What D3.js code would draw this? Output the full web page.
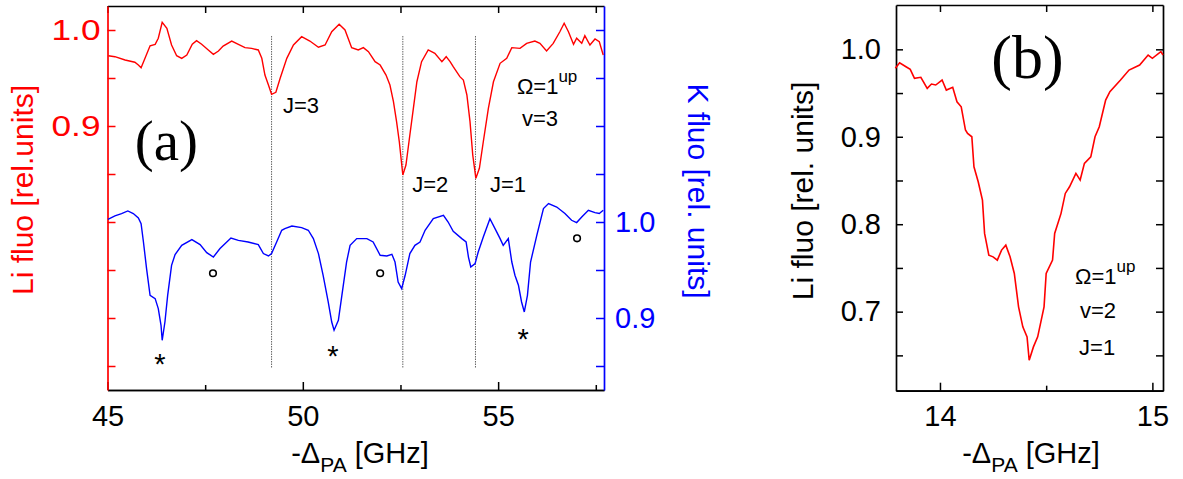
<!DOCTYPE html>
<html><head><meta charset="utf-8">
<script src="https://cdn.jsdelivr.net/npm/d3@7"></script>
<style>
body{margin:0;background:#fff;}
svg{display:block;font-family:"Liberation Sans",Arial,sans-serif;}
</style></head>
<body><svg id="c" width="1183" height="479"></svg>
<script>
// ---- Panel (a): Li fluorescence (red), GHz vs rel. units
const liA = [[45.02,0.9732],[45.19,0.9722],[45.45,0.9688],[45.70,0.9664],[45.79,0.9635],[45.86,0.9607],[45.96,0.9705],[46.09,0.9836],[46.22,0.9851],[46.30,0.9914],[46.40,1.0080],[46.52,1.0018],[46.64,0.9844],[46.77,0.9732],[46.90,0.9705],[47.03,0.9740],[47.17,0.9851],[47.28,0.9889],[47.41,0.9851],[47.58,0.9792],[47.71,0.9747],[47.84,0.9781],[47.96,0.9833],[48.18,0.9885],[48.35,0.9851],[48.52,0.9816],[48.69,0.9809],[48.86,0.9792],[48.95,0.9705],[49.03,0.9531],[49.12,0.9427],[49.20,0.9330],[49.31,0.9351],[49.42,0.9497],[49.59,0.9705],[49.76,0.9844],[49.97,0.9930],[50.18,0.9885],[50.40,0.9820],[50.57,0.9844],[50.74,0.9982],[50.93,1.0059],[51.08,1.0000],[51.25,0.9816],[51.42,0.9792],[51.55,0.9816],[51.68,0.9774],[51.85,0.9670],[51.98,0.9635],[52.13,0.9531],[52.23,0.9427],[52.32,0.9253],[52.40,0.9045],[52.47,0.8836],[52.56,0.8490],[52.64,0.8594],[52.74,0.8906],[52.83,0.9184],[52.92,0.9461],[53.04,0.9670],[53.21,0.9792],[53.38,0.9757],[53.56,0.9670],[53.67,0.9722],[53.77,0.9670],[53.85,0.9618],[54.02,0.9514],[54.11,0.9479],[54.20,0.9323],[54.28,0.9045],[54.35,0.8698],[54.43,0.8455],[54.52,0.8560],[54.62,0.8836],[54.75,0.9184],[54.88,0.9461],[55.05,0.9653],[55.22,0.9705],[55.35,0.9816],[55.56,0.9809],[55.73,0.9861],[55.94,0.9885],[56.07,0.9861],[56.24,0.9781],[56.41,0.9861],[56.58,0.9982],[56.69,1.0070],[56.80,0.9982],[56.93,0.9851],[57.01,0.9914],[57.14,0.9861],[57.22,0.9941],[57.35,0.9844],[57.48,0.9906],[57.59,0.9878],[57.69,0.9740]];
// K fluorescence (blue)
const kA = [[45.01,1.0028],[45.19,1.0063],[45.36,1.0088],[45.52,1.0115],[45.66,1.0088],[45.79,1.0042],[45.86,0.9983],[45.92,0.9792],[46.00,0.9515],[46.09,0.9236],[46.22,0.9202],[46.30,0.9098],[46.37,0.8924],[46.40,0.8768],[46.47,0.8958],[46.54,0.9236],[46.64,0.9549],[46.73,0.9660],[46.90,0.9757],[47.16,0.9817],[47.37,0.9765],[47.54,0.9681],[47.71,0.9635],[47.88,0.9723],[48.16,0.9833],[48.35,0.9809],[48.60,0.9792],[48.86,0.9765],[48.99,0.9671],[49.12,0.9646],[49.20,0.9671],[49.33,0.9792],[49.46,0.9914],[49.54,0.9931],[49.72,0.9958],[49.97,0.9942],[50.14,0.9914],[50.27,0.9827],[50.40,0.9671],[50.52,0.9445],[50.65,0.9167],[50.74,0.8958],[50.80,0.8872],[50.91,0.8976],[51.00,0.9236],[51.12,0.9583],[51.21,0.9757],[51.38,0.9827],[51.64,0.9827],[51.80,0.9792],[51.98,0.9653],[52.15,0.9646],[52.28,0.9664],[52.36,0.9583],[52.44,0.9375],[52.53,0.9306],[52.62,0.9445],[52.74,0.9671],[52.87,0.9757],[53.00,0.9792],[53.13,0.9914],[53.34,1.0035],[53.60,1.0070],[53.72,1.0000],[53.85,0.9903],[54.07,0.9827],[54.18,0.9792],[54.24,0.9635],[54.30,0.9531],[54.41,0.9567],[54.49,0.9688],[54.62,0.9844],[54.79,1.0035],[54.92,0.9931],[55.05,0.9827],[55.13,0.9757],[55.26,0.9827],[55.35,0.9583],[55.43,0.9445],[55.52,0.9341],[55.60,0.9167],[55.67,0.9063],[55.75,0.9236],[55.83,0.9583],[55.99,0.9861],[56.16,1.0140],[56.29,1.0192],[56.50,1.0156],[56.71,1.0088],[56.88,1.0018],[57.01,0.9994],[57.14,1.0052],[57.31,1.0122],[57.48,1.0098],[57.59,1.0088],[57.69,1.0122]];
// ---- Panel (b): Li fluorescence
const liB = [[13.79,0.9783],[13.81,0.9847],[13.84,0.9801],[13.86,0.9771],[13.88,0.9668],[13.91,0.9680],[13.94,0.9554],[13.96,0.9603],[13.98,0.9592],[14.01,0.9649],[14.03,0.9534],[14.06,0.9565],[14.08,0.9400],[14.10,0.9343],[14.12,0.9077],[14.13,0.9039],[14.15,0.9000],[14.16,0.8657],[14.18,0.8485],[14.20,0.8276],[14.21,0.7895],[14.23,0.7646],[14.25,0.7627],[14.27,0.7589],[14.29,0.7704],[14.31,0.7761],[14.33,0.7627],[14.35,0.7437],[14.37,0.7055],[14.39,0.6826],[14.41,0.6712],[14.42,0.6445],[14.44,0.6597],[14.46,0.6712],[14.49,0.7055],[14.50,0.7437],[14.53,0.7589],[14.54,0.7895],[14.57,0.8124],[14.59,0.8352],[14.61,0.8428],[14.64,0.8581],[14.66,0.8505],[14.68,0.8696],[14.71,0.8771],[14.73,0.9000],[14.75,0.9114],[14.78,0.9420],[14.80,0.9515],[14.85,0.9649],[14.89,0.9763],[14.94,0.9820],[14.98,0.9935],[15.00,0.9897],[15.04,0.9973],[15.05,0.9935]];

const resonanceLines = [49.20, 52.56, 54.42];
const jLabels = [{t:"J=3",x:49.49,y:0.9135},{t:"J=2",x:52.80,y:0.831},{t:"J=1",x:54.79,y:0.831}];
const starsA = [[46.34,0.8594],[50.77,0.8677],[55.64,0.8854]];
const circlesA = [[47.70,0.9466],[51.98,0.9466],[57.02,0.983]];

const xTicksA = [45,50,55], xMinorA = [47.5,52.5,57.5];
const liTicksA = [1.0,0.95,0.9,0.85,0.8,0.75,0.7,0.65], liLabelsA = [1.0,0.9];
const kTicksA = [1.2,1.15,1.1,1.05,1.0,0.95,0.9,0.85], kLabelsA = [1.0,0.9];
const xTicksB = [14,15], xMinorB = [14.5];
const yTicksB = [1.0,0.95,0.9,0.85,0.8,0.75,0.7,0.65], yLabelsB = [1.0,0.9,0.8,0.7];

const svg = d3.select("#c");
const RED="#ff0000", BLUE="#0000ff";

// scales panel a
const xA = d3.scaleLinear().domain([45,57.71]).range([107.5,604]);
const yLi = d3.scaleLinear().domain([0.625,1.025]).range([390,6]);
const yK = d3.scaleLinear().domain([0.825,1.225]).range([390,6]);
// scales panel b
const xB = d3.scaleLinear().domain([13.793,15.05]).range([896,1163]);
const yB = d3.scaleLinear().domain([0.6096,1.0507]).range([390.7,5]);

const fmt = d=>d3.format(".1f")(d);
function styleAxis(g,color,fs){
  g.selectAll("path.domain").attr("stroke",color).attr("stroke-width",1.7);
  g.selectAll(".tick line").attr("stroke",color).attr("stroke-width",1.5);
  g.selectAll(".tick text").attr("fill",color).attr("font-size",fs).attr("font-family","Liberation Sans, Arial, sans-serif");
}

// ---- panel a axes
let g = svg.append("g").attr("transform","translate(0,390)")
  .call(d3.axisBottom(xA).tickValues(xMinorA).tickSizeInner(-5).tickSizeOuter(0).tickFormat(""));
styleAxis(g,"#000",29);
g = svg.append("g").attr("transform","translate(0,390)")
  .call(d3.axisBottom(xA).tickValues(xTicksA).tickSizeInner(-8).tickSizeOuter(0).tickPadding(15).tickFormat(d3.format("d")));
styleAxis(g,"#000",29);
g = svg.append("g").attr("transform","translate(0,6)")
  .call(d3.axisTop(xA).tickValues(xTicksA.concat(xMinorA)).tickSizeInner(-7).tickSizeOuter(0).tickFormat(""));
styleAxis(g,"#000",29);
g = svg.append("g").attr("transform","translate(107.5,0)")
  .call(d3.axisLeft(yLi).tickValues(liTicksA).tickSizeInner(-8).tickSizeOuter(0).tickPadding(7)
    .tickFormat(d=>liLabelsA.some(v=>Math.abs(v-d)<1e-9)?fmt(d):""));
styleAxis(g,RED,29);
g.selectAll(".tick text").filter(function(){return this.textContent!=="";})
  .attr("textLength",49).attr("lengthAdjust","spacingAndGlyphs");
g = svg.append("g").attr("transform","translate(604,0)")
  .call(d3.axisRight(yK).tickValues(kTicksA).tickSizeInner(-8).tickSizeOuter(0).tickPadding(11)
    .tickFormat(d=>kLabelsA.some(v=>Math.abs(v-d)<1e-9)?fmt(d):""));
styleAxis(g,BLUE,29);

// resonance dashed lines
svg.append("g").selectAll("line").data(resonanceLines).join("line")
  .attr("x1",d=>xA(d)).attr("x2",d=>xA(d)).attr("y1",36).attr("y2",368)
  .attr("stroke","#666").attr("stroke-width",1).attr("stroke-dasharray","1.5,1");

const lineA = (ys)=>d3.line().x(d=>xA(d[0])).y(d=>ys(d[1]));
svg.append("path").datum(liA).attr("d",lineA(yLi)).attr("fill","none").attr("stroke",RED).attr("stroke-width",1.4);
svg.append("path").datum(kA).attr("d",lineA(yK)).attr("fill","none").attr("stroke",BLUE).attr("stroke-width",1.4);

// annotations a
svg.append("text").attr("x",xA(46.51)).attr("y",yLi(0.8646)).attr("text-anchor","middle")
  .attr("font-family","Liberation Serif, Times New Roman, serif").attr("font-size",57).text("(a)");
svg.append("g").selectAll("text").data(jLabels).join("text")
  .attr("x",d=>xA(d.x)).attr("y",d=>yLi(d.y)).attr("font-size",22).text(d=>d.t);
let om = svg.append("text").attr("x",xA(55.48)).attr("y",yLi(0.9333)).attr("font-size",22);
om.append("tspan").text("Ω=1");
om.append("tspan").attr("dy",-12).attr("font-size",17).text("up");
svg.append("text").attr("x",xA(55.61)).attr("y",yLi(0.9)).attr("font-size",22).text("v=3");
svg.append("g").selectAll("text").data(starsA).join("text")
  .attr("x",d=>xA(d[0])).attr("y",d=>yK(d[1])+17).attr("text-anchor","middle").attr("font-size",29).text("*");
svg.append("g").selectAll("circle").data(circlesA).join("circle")
  .attr("cx",d=>xA(d[0])).attr("cy",d=>yK(d[1])).attr("r",3.3).attr("fill","none").attr("stroke","#000").attr("stroke-width",1.6);

// axis titles a
svg.append("text").attr("transform","translate(33,190) rotate(-90)").attr("text-anchor","middle")
  .attr("font-size",30).attr("fill",RED).text("Li fluo [rel.units]");
svg.append("text").attr("transform","translate(688,191) rotate(90)").attr("text-anchor","middle")
  .attr("font-size",30).attr("fill",BLUE).text("K fluo [rel. units]");
function xTitle(cx){
  const t = svg.append("text").attr("x",cx).attr("y",463).attr("text-anchor","middle").attr("font-size",29);
  t.append("tspan").text("-Δ");
  t.append("tspan").attr("dy",9).attr("font-size",21).text("PA");
  t.append("tspan").attr("dy",-9).text(" [GHz]");
}
xTitle(360);

// ---- panel b axes
g = svg.append("g").attr("transform","translate(0,390.7)")
  .call(d3.axisBottom(xB).tickValues(xMinorB).tickSizeInner(-5).tickSizeOuter(0).tickFormat(""));
styleAxis(g,"#000",29);
g = svg.append("g").attr("transform","translate(0,390.7)")
  .call(d3.axisBottom(xB).tickValues(xTicksB).tickSizeInner(-8).tickSizeOuter(0).tickPadding(15).tickFormat(d3.format("d")));
styleAxis(g,"#000",29);
g = svg.append("g").attr("transform","translate(0,5)")
  .call(d3.axisTop(xB).tickValues(xTicksB.concat(xMinorB)).tickSizeInner(-7).tickSizeOuter(0).tickFormat(""));
styleAxis(g,"#000",29);
g = svg.append("g").attr("transform","translate(896,0)")
  .call(d3.axisLeft(yB).tickValues(yTicksB).tickSizeInner(-7).tickSizeOuter(0).tickPadding(15)
    .tickFormat(d=>yLabelsB.some(v=>Math.abs(v-d)<1e-9)?fmt(d):""));
styleAxis(g,"#000",29);
g = svg.append("g").attr("transform","translate(1163,0)")
  .call(d3.axisRight(yB).tickValues(yTicksB).tickSizeInner(-7).tickSizeOuter(0).tickFormat(""));
styleAxis(g,"#000",29);

svg.append("path").datum(liB).attr("d",d3.line().x(d=>xB(d[0])).y(d=>yB(d[1])))
  .attr("fill","none").attr("stroke",RED).attr("stroke-width",1.6);

svg.append("text").attr("x",xB(14.412)).attr("y",yB(0.967)).attr("text-anchor","middle")
  .attr("font-family","Liberation Serif, Times New Roman, serif").attr("font-size",62).text("(b)");
om = svg.append("text").attr("x",xB(14.636)).attr("y",yB(0.7315)).attr("font-size",22);
om.append("tspan").text("Ω=1");
om.append("tspan").attr("dy",-12).attr("font-size",17).text("up");
svg.append("text").attr("x",xB(14.659)).attr("y",yB(0.6926)).attr("font-size",22).text("v=2");
svg.append("text").attr("x",xB(14.655)).attr("y",yB(0.6502)).attr("font-size",22).text("J=1");

svg.append("text").attr("transform","translate(813,191) rotate(-90)").attr("text-anchor","middle")
  .attr("font-size",30).attr("fill","#000").text("Li fluo [rel. units]");
xTitle(1031);
</script></body></html>
